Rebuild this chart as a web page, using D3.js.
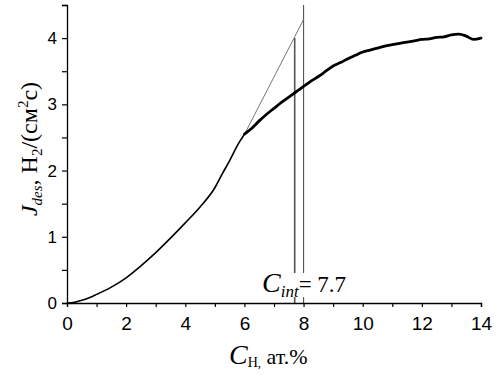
<!DOCTYPE html>
<html>
<head>
<meta charset="utf-8">
<script src="https://cdn.jsdelivr.net/npm/d3@7"></script>
<style>
    body { margin: 0; background: white; }
    svg text { fill: black; }
    .tick text { font-family: "Liberation Sans", Arial, sans-serif; }
    .serif { font-family: "Liberation Serif", "Times New Roman", serif; }
</style>
</head>
<body>
<div id="chart"></div>
<script>
// desorption flux vs hydrogen concentration
var concLow = [0, 0.25, 0.5, 0.75, 1, 1.5, 2, 2.5, 3, 3.5, 4, 4.5, 5, 5.25, 5.5, 5.75, 6];
var fluxLow = [0, 0.01, 0.04, 0.08, 0.13, 0.24, 0.38, 0.56, 0.76, 0.98, 1.21, 1.45, 1.74, 1.95, 2.15, 2.37, 2.55];

var concHigh = [6, 6.25, 6.5, 6.75, 7, 7.25, 7.5, 7.75, 8, 8.25, 8.5, 8.75, 9, 9.25, 9.5, 9.75,
    10, 10.25, 10.5, 10.75, 11, 11.25, 11.5, 11.75, 12, 12.25, 12.5, 12.75, 13, 13.25, 13.5, 13.75, 14];
var fluxHigh = [2.55, 2.64, 2.75, 2.85, 2.94, 3.03, 3.11, 3.19, 3.27, 3.35, 3.42, 3.50, 3.58, 3.63, 3.69, 3.74,
    3.79, 3.82, 3.85, 3.88, 3.90, 3.92, 3.94, 3.96, 3.98, 3.99, 4.01, 4.02, 4.05, 4.06, 4.03, 3.98, 4.00];

// extrapolated linear part
var tangentX = [5.9, 8.0];
var tangentY = [2.46, 4.28];

// marker lines at C_int and at 8
var markX = [7.7, 8.0];
var markTop = [4.0, 4.5];

var xTicks = [0, 1, 2, 3, 4, 5, 6, 7, 8, 9, 10, 11, 12, 13, 14];
var yTicks = [0, 0.5, 1, 1.5, 2, 2.5, 3, 3.5, 4, 4.5];

var W = 496, H = 375;
var margin = {left: 67, right: 15, top: 5, bottom: 72};

var svg = d3.select("#chart").append("svg")
    .attr("width", W)
    .attr("height", H);

var x = d3.scaleLinear().domain([0, 14]).range([margin.left, W - margin.right]);
var y = d3.scaleLinear().domain([0, 4.5]).range([H - margin.bottom, margin.top]);

function pts(xs, ys){
    return xs.map(function(v, i){ return [v, ys[i]]; });
}

var line = d3.line()
    .x(function(d){ return x(d[0]); })
    .y(function(d){ return y(d[1]); });

var smooth = d3.line()
    .curve(d3.curveMonotoneX)
    .x(function(d){ return x(d[0]); })
    .y(function(d){ return y(d[1]); });

// marker lines
svg.selectAll(".mark")
    .data(pts(markX, markTop))
    .enter()
    .append("line")
    .attr("class", "mark")
    .attr("x1", function(d){ return x(d[0]); })
    .attr("x2", function(d){ return x(d[0]); })
    .attr("y1", y(0))
    .attr("y2", function(d){ return y(d[1]); })
    .style("stroke", "#555")
    .style("stroke-width", function(d, i){ return i == 0 ? 1.6 : 1.1; });

svg.append("path")
    .attr("d", line(pts(tangentX, tangentY)))
    .style("fill", "none")
    .style("stroke", "#666")
    .style("stroke-width", 0.9);

svg.append("path")
    .attr("d", smooth(pts(concLow, fluxLow)))
    .style("fill", "none")
    .style("stroke", "black")
    .style("stroke-width", 1.6)
    .style("stroke-linejoin", "round");

svg.append("path")
    .attr("d", smooth(pts(concHigh, fluxHigh)))
    .style("fill", "none")
    .style("stroke", "black")
    .style("stroke-width", 2.8)
    .style("stroke-linecap", "round")
    .style("stroke-linejoin", "round");

// axes
var xAxis = d3.axisBottom(x)
    .tickValues(xTicks)
    .tickSizeOuter(0)
    .tickSize(4)
    .tickPadding(10)
    .tickFormat(function(d){ return d % 2 == 0 ? d : ""; });

var yAxis = d3.axisLeft(y)
    .tickValues(yTicks)
    .tickSizeOuter(0)
    .tickSize(5)
    .tickPadding(5)
    .tickFormat(function(d){ return (d % 1 == 0) ? d : ""; });

var gx = svg.append("g")
    .attr("transform", "translate(0," + y(0) + ")")
    .call(xAxis);
var gy = svg.append("g")
    .attr("transform", "translate(" + x(0) + ",0)")
    .call(yAxis);

[gx, gy].forEach(function(g){
    g.select(".domain").style("stroke", "black").style("stroke-width", 1.3);
    g.selectAll(".tick line").style("stroke", "black").style("stroke-width", 1.2);
});
gx.selectAll(".tick text").style("font-size", "19px");
gy.selectAll(".tick text").style("font-size", "17px");

// C_int label with white box over the marker lines
var cint = svg.append("g");
var cintText = cint.append("text")
    .attr("class", "serif")
    .attr("x", 262)
    .attr("y", 292)
    .style("font-size", "28px");
cintText.append("tspan").style("font-style", "italic").text("C");
cintText.append("tspan").style("font-style", "italic").style("font-size", "17px").attr("dy", 5).text("int");
cintText.append("tspan").style("font-size", "23px").attr("dy", -5).text("= 7.7");

var bb = cintText.node().getBBox();
cint.insert("rect", "text")
    .attr("x", bb.x)
    .attr("y", bb.y + 6)
    .attr("width", bb.width)
    .attr("height", bb.height - 10)
    .style("fill", "white");

// x label
var xl = svg.append("text")
    .attr("class", "serif")
    .attr("x", 229)
    .attr("y", 364)
    .style("font-size", "28px");
xl.append("tspan").style("font-style", "italic").text("C");
xl.append("tspan").style("font-size", "14px").attr("dy", 3).text("H");
xl.append("tspan").style("font-size", "13px").text(",");
xl.append("tspan").style("font-size", "22px").attr("dy", -3).text(" ат.%");

// y label
var yl = svg.append("text")
    .attr("class", "serif")
    .attr("transform", "translate(37,149) rotate(-90)")
    .attr("text-anchor", "middle")
    .style("font-size", "24px");
yl.append("tspan").style("font-style", "italic").text("J");
yl.append("tspan").style("font-style", "italic").style("font-size", "15px").attr("dy", 5).text("des");
yl.append("tspan").attr("dy", -5).text(", H");
yl.append("tspan").style("font-size", "15px").attr("dy", 5).text("2");
yl.append("tspan").attr("dy", -5).text("/(см");
yl.append("tspan").style("font-size", "15px").attr("dy", -9).text("2");
yl.append("tspan").attr("dy", 9).text("с)");
</script>
</body>
</html>
